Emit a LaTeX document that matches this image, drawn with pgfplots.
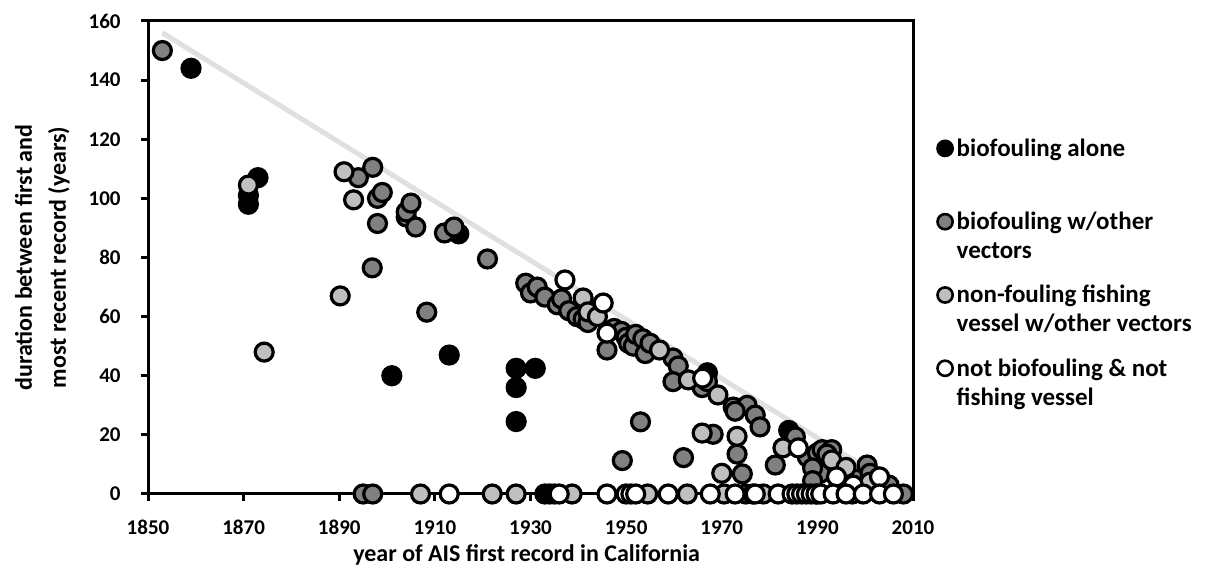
\documentclass[border=0pt]{standalone}
\usepackage{pgfplots}
\pgfplotsset{compat=1.18}
\usepackage{fontspec}
\setmainfont{Carlito}
\definecolor{darkg}{RGB}{128,128,128}
\definecolor{lightg}{RGB}{191,191,191}
\definecolor{lineg}{RGB}{224,224,224}

\pgfplotstableread{
x y
1859 144
1871 98
1871 101
1873 107
1901 40
1913 47
1915 88
1927 42.5
1927 36
1927 24.5
1931 42.5
1967 41
1984 21.5
1933 0
1934 0
1935 0
}\blackdata

\pgfplotstableread{
x y
1853 150
1894 107
1897 110.5
1898 100
1899 102
1898 91.5
1896.9 76.5
1904 93.7
1904 95.4
1905 98.4
1906 90.3
1908.3 61.5
1912 88.3
1914 90.3
1921 79.5
1929 71.3
1930 68
1931.4 70
1933 66.6
1935.6 64
1936.5 66
1938 62
1939.7 60
1941 59.2
1942 58
1946 48.7
1947.5 56
1949 55
1950 53
1950.5 51
1951.5 50
1952 54
1953.5 52.5
1954 47.5
1955 51
1959.8 46
1960.9 43.3
1959.8 38
1965.9 36
1967 38
1972.4 29.4
1975.3 30
1977 26.7
1978 22.7
1972.8 28
1953 24.4
1949.2 11.3
1962 12.3
1968.2 20.2
1973.2 13.5
1974.3 6.8
1985.4 19.3
1981.2 9.8
1987.9 12.5
1990 13.9
1991 15
1993 15
1992 13.5
1990.6 7
1989 8.8
1989 4.5
1995 8
1998 5
2000.4 9.8
2001 7
2005 3
1895 0
1897 0
1975 0
1990 0
2008 0
}\darkdata

\pgfplotstableread{
x y
1871 104.5
1874.3 48
1890.2 67
1891 109
1893 99.5
1941 66.3
1942 61.6
1944 60
1957 48.7
1963 38.6
1969.2 33.5
1965.9 20.6
1973.2 19.5
1970 7
1982.8 15.6
1993 11.5
1996 9
2001 4
1907 0
1922 0
1927 0
1938.7 0
1954.5 0
1962.8 0
1970.5 0
1976.5 0
1978.7 0
1997.3 0
}\lightdata

\pgfplotstableread{
x y
1937.2 72.4
1945.2 64.6
1946 54.4
1966 39.2
1986 15.6
1994 5.8
2003 5.8
1997.5 3
1913 0
1936 0
1946 0
1950 0
1951 0
1952 0
1958.8 0
1967.6 0
1972.8 0
1977 0
1981.8 0
1984.7 0
1985.7 0
1986.7 0
1987.7 0
1988.7 0
1989.7 0
1990.7 0
1993.3 0
1996 0
1999.6 0
2003 0
2005.9 0
}\whitedata

\begin{document}
\begin{tikzpicture}[x=1pt,y=1pt]
\useasboundingbox (0,0) rectangle (607.5,290.5);
\begin{axis}[
  at={(74pt,43.5pt)}, anchor=south west,
  width=382.5pt, height=236.5pt, scale only axis,
  xmin=1850, xmax=2010, ymin=0, ymax=160,
  xtick={1850,1870,...,2010}, ytick={0,20,...,160},
  tick align=outside, major tick length=3.5pt,
  xtick pos=bottom, ytick pos=left,
  axis line style={line width=1.5pt},
  every tick/.style={line width=1.5pt, black},
  clip=false,
  /pgf/number format/1000 sep={},
  /pgf/number format/assume math mode=true,
  ticklabel style={font=\fontsize{10.5}{12}\selectfont\bfseries},
  xticklabel style={anchor=north, inner sep=0pt, yshift=-9.5pt},
  yticklabel style={anchor=east, inner sep=0pt, xshift=-10pt},
  xlabel={year of AIS first record in California},
  xlabel style={font=\fontsize{12}{14}\selectfont\bfseries, at={(axis description cs:0.495,-0.128)}, anchor=center},
  ylabel={duration between first and\\most recent record (years)},
  ylabel style={font=\fontsize{12}{17}\selectfont\bfseries, align=center, at={(axis description cs:-0.138,0.5)}, anchor=center},
  legend image code/.code={\draw[#1, yshift=18.5pt] plot coordinates {(0pt,0pt)};},
  legend style={at={(axis description cs:1.0315,0.7575)}, anchor=north west, draw=none, fill=none, inner sep=0pt, row sep=10.5pt, column sep=2pt,
    nodes={inner sep=0pt, align=left, font=\fontsize{12.5}{14.5}\selectfont\bfseries},
    cells={anchor=base west}},
]
\addplot[lineg, line width=2.5pt, forget plot] coordinates {(1853,156) (2009,0)};
\addplot[only marks, mark=*, mark size=4.5pt, line width=1.6pt, draw=black, fill=black, forget plot] table[x=x,y=y] {\blackdata};
\addplot[only marks, mark=*, mark size=4.5pt, line width=1.6pt, draw=black, fill=darkg, forget plot] table[x=x,y=y] {\darkdata};
\addplot[only marks, mark=*, mark size=4.5pt, line width=1.6pt, draw=black, fill=lightg, forget plot] table[x=x,y=y] {\lightdata};
\addplot[only marks, mark=*, mark size=4.5pt, line width=1.6pt, draw=black, fill=white, forget plot] table[x=x,y=y] {\whitedata};

\addlegendimage{only marks, mark=*, mark size=3.8pt, line width=1.3pt, draw=black, fill=black}
\addlegendentry{\strut biofouling alone\\\strut}
\addlegendimage{only marks, mark=*, mark size=3.8pt, line width=1.3pt, draw=black, fill=darkg}
\addlegendentry{\strut biofouling w/other\\\strut vectors}
\addlegendimage{only marks, mark=*, mark size=3.8pt, line width=1.3pt, draw=black, fill=lightg}
\addlegendentry{\strut non-fouling fishing\\\strut vessel w/other vectors}
\addlegendimage{only marks, mark=*, mark size=3.8pt, line width=1.3pt, draw=black, fill=white}
\addlegendentry{\strut not biofouling \& not\\\strut fishing vessel}
\end{axis}
\end{tikzpicture}
\end{document}
